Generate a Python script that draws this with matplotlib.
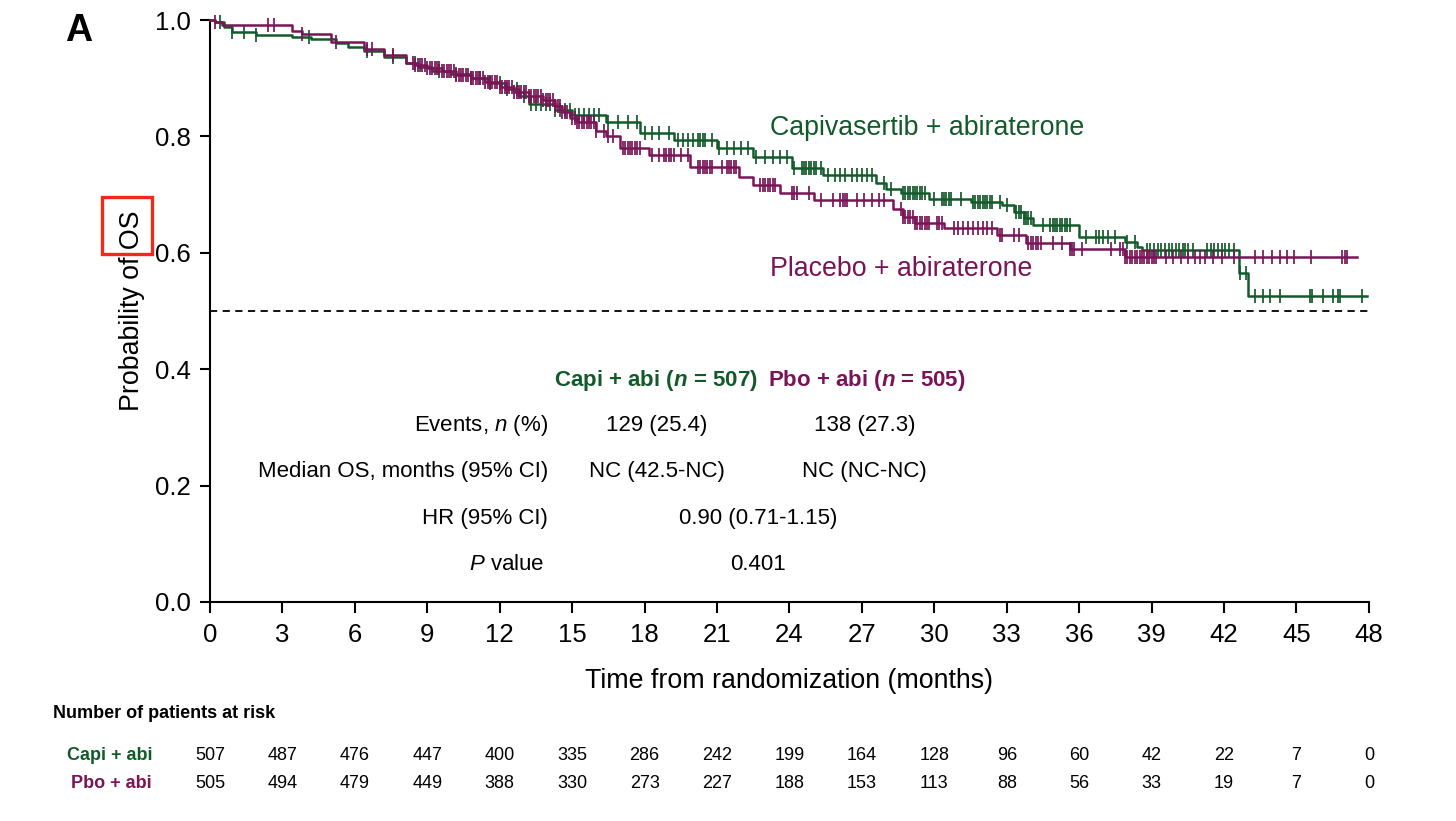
import numpy as np
import matplotlib
matplotlib.use("Agg")
import matplotlib.pyplot as plt
from matplotlib import font_manager
from matplotlib.patches import Rectangle
import matplotlib.transforms as mtransforms

# ---------------- data ----------------
capi_times = [0, 0.2, 0.6, 0.9, 1.9, 3.4, 4.2, 5.2, 5.7, 6.4, 7.2, 8.1, 8.6, 9.2, 10.0, 10.8,
              11.5, 12.2, 12.8, 13.2, 14.3, 15.0, 16.4, 17.8, 19.2, 21.0, 22.5, 24.1, 25.4,
              27.6, 28.0, 28.6, 29.8, 31.5, 32.8, 33.3, 33.7, 34.1, 36.0, 37.9, 38.4, 38.6,
              42.6, 43.0]
capi_surv = [1.0, 0.997, 0.988, 0.979, 0.974, 0.971, 0.967, 0.960, 0.954, 0.947, 0.937, 0.926,
             0.920, 0.913, 0.907, 0.900, 0.892, 0.882, 0.870, 0.855, 0.845, 0.837, 0.825, 0.806,
             0.794, 0.780, 0.765, 0.746, 0.734, 0.720, 0.710, 0.703, 0.692, 0.687, 0.682, 0.670,
             0.660, 0.648, 0.628, 0.619, 0.610, 0.604, 0.565, 0.526]
capi_end = 47.9

pbo_times = [0, 0.2, 0.5, 3.4, 3.8, 5.0, 6.4, 7.2, 8.1, 8.5, 9.0, 9.6, 10.2, 10.8, 11.4, 12.0,
             12.6, 13.2, 13.8, 14.3, 14.6, 14.9, 15.2, 16.0, 16.4, 17.0, 18.2, 19.9, 21.9, 22.5,
             23.6, 25.0, 28.3, 28.7, 29.2, 30.4, 32.6, 33.8, 35.6, 37.9]
pbo_surv = [1.0, 0.997, 0.991, 0.981, 0.976, 0.962, 0.950, 0.940, 0.926, 0.922, 0.917, 0.912,
            0.906, 0.900, 0.893, 0.885, 0.877, 0.870, 0.862, 0.852, 0.842, 0.832, 0.825, 0.810,
            0.800, 0.780, 0.768, 0.747, 0.730, 0.716, 0.703, 0.690, 0.675, 0.662, 0.652, 0.643,
            0.630, 0.617, 0.606, 0.593]
pbo_end = 47.5

capi_censor = [0.4, 0.9, 1.4, 1.9, 4.1, 6.5, 7.6, 8.5, 9.5, 10.2, 10.8, 11.2, 11.6, 12.0, 12.3,
               12.7, 13.0, 13.3, 13.5, 13.7, 13.9, 14.1, 14.3, 14.5, 14.7, 14.9, 15.1, 15.3,
               15.5, 15.7, 15.9, 16.1, 16.5, 16.9, 17.3, 17.7, 18.0, 18.3, 18.6, 19.0, 19.4,
               19.6, 19.8, 20.0, 20.2, 20.3, 20.4, 20.5, 20.8, 21.1, 21.4, 21.7, 22.0, 22.3,
               22.6, 23.0, 23.3, 23.6, 23.9, 24.2, 24.5, 24.6, 24.7, 24.8, 24.9, 25.0, 25.1,
               25.3, 25.6, 25.9, 26.1, 26.3, 26.6, 26.8, 27.0, 27.2, 27.4, 27.9, 28.2, 28.7,
               28.8, 28.9, 29.0, 29.1, 29.2, 29.3, 29.4, 29.5, 29.6, 30.0, 30.3, 30.4, 30.5,
               30.6, 30.7, 31.1, 31.6, 31.7, 31.8, 31.9, 32.0, 32.1, 32.2, 32.3, 32.4, 32.7,
               33.0, 33.4, 33.5, 33.6, 33.7, 33.8, 33.9, 34.0, 34.5, 34.8, 34.9, 35.0, 35.1,
               35.2, 35.3, 35.4, 35.5, 35.6, 36.3, 36.7, 36.8, 37.0, 37.2, 37.5, 38.0, 38.3,
               38.8, 38.95, 39.1, 39.25, 39.4, 39.55, 39.7, 39.85, 40.0, 40.15, 40.3, 40.4,
               40.5, 40.7, 41.3, 41.45, 41.6, 41.75, 41.9, 42.05, 42.2, 42.4, 42.65, 42.9,
               43.3, 43.6, 43.9, 44.3, 45.55, 45.65, 46.1, 46.5, 46.7, 46.8, 47.7]

pbo_censor = [0.2, 2.4, 2.65, 3.8, 5.2, 6.5, 6.7, 7.6, 8.4, 8.5, 8.6, 8.7, 8.8, 8.9, 9.0, 9.1,
              9.2, 9.3, 9.4, 9.5, 9.6, 9.7, 9.8, 9.9, 10.0, 10.1, 10.2, 10.3, 10.4, 10.5, 10.6,
              10.7, 10.8, 10.9, 11.0, 11.1, 11.2, 11.3, 11.4, 11.5, 11.6, 11.7, 11.8, 11.9,
              12.0, 12.1, 12.2, 12.3, 12.4, 12.5, 12.6, 12.7, 12.8, 12.9, 13.0, 13.1, 13.2,
              13.3, 13.4, 13.5, 13.6, 13.7, 13.8, 13.9, 14.0, 14.1, 14.2, 14.3, 14.4, 14.5,
              14.6, 14.7, 14.8, 15.0, 15.1, 15.2, 15.3, 15.4, 15.5, 15.6, 15.7, 15.8, 15.9,
              16.0, 16.3, 16.5, 16.7, 17.1, 17.2, 17.3, 17.4, 17.5, 17.6, 17.7, 17.8, 18.3,
              18.6, 18.8, 18.9, 19.0, 19.1, 19.2, 19.5, 19.8, 20.2, 20.3, 20.4, 20.5, 20.6,
              20.7, 20.8, 21.2, 21.4, 21.5, 21.6, 21.7, 21.8, 22.8, 22.9, 23.0, 23.1, 23.2,
              23.3, 23.4, 24.1, 24.2, 24.3, 24.8, 25.3, 25.8, 26.1, 26.2, 26.3, 26.4, 26.8,
              27.1, 27.4, 27.7, 27.9, 28.6, 28.7, 28.8, 28.9, 29.0, 29.1, 29.2, 29.3, 29.4,
              29.5, 29.6, 29.7, 29.8, 30.1, 30.2, 30.3, 30.8, 31.0, 31.2, 31.4, 31.6, 31.8,
              32.0, 32.2, 32.4, 32.7, 32.8, 33.3, 33.5, 33.9, 34.0, 34.1, 34.2, 34.3, 34.4,
              34.9, 35.3, 35.6, 35.7, 35.8, 36.1, 37.3, 37.7, 37.8, 37.9, 38.0, 38.1, 38.2,
              38.3, 38.4, 38.5, 38.6, 38.7, 38.8, 38.9, 39.0, 39.1, 39.2, 39.6, 39.9, 40.2,
              40.5, 40.8, 41.0, 41.2, 41.55, 41.9, 42.4, 43.3, 43.6, 44.0, 44.3, 44.6, 44.9,
              45.6, 46.9, 47.0, 47.1]

risk_times = [0, 3, 6, 9, 12, 15, 18, 21, 24, 27, 30, 33, 36, 39, 42, 45, 48]
capi_risk = [507, 487, 476, 447, 400, 335, 286, 242, 199, 164, 128, 96, 60, 42, 22, 7, 0]
pbo_risk = [505, 494, 479, 449, 388, 330, 273, 227, 188, 153, 113, 88, 56, 33, 19, 7, 0]

x_ticks = [0, 3, 6, 9, 12, 15, 18, 21, 24, 27, 30, 33, 36, 39, 42, 45, 48]
y_ticks = [0.0, 0.2, 0.4, 0.6, 0.8, 1.0]
y_ticklabels = ["0.0", "0.2", "0.4", "0.6", "0.8", "1.0"]

GREEN = "#135a2b"
PURPLE = "#7a1456"

# ---------------- fonts ----------------
names = {f.name for f in font_manager.fontManager.ttflist}
MAIN = "Liberation Sans" if "Liberation Sans" in names else "DejaVu Sans"
NARROW = "Liberation Sans Narrow" if "Liberation Sans Narrow" in names else MAIN
plt.rcParams["font.family"] = [MAIN, "DejaVu Sans"]
plt.rcParams["mathtext.fontset"] = "custom"
plt.rcParams["mathtext.rm"] = NARROW
plt.rcParams["mathtext.it"] = NARROW + ":italic"
plt.rcParams["mathtext.bf"] = NARROW + ":bold"
try:
    plt.rcParams["mathtext.bfit"] = NARROW + ":italic:bold"
except KeyError:
    pass

# ---------------- figure ----------------
fig = plt.figure(figsize=(14.56, 8.21), dpi=100)
ax = fig.add_axes([0.1442, 0.2668, 0.7960, 0.7088])


def km_line(times, surv, end):
    xs = list(times) + [end]
    ys = list(surv) + [surv[-1]]
    return xs, ys


def surv_at(times, surv, t):
    idx = np.searchsorted(np.asarray(times), np.asarray(t), side="right") - 1
    return np.asarray(surv)[idx]


for times, surv, end, cens, col, z in [
    (capi_times, capi_surv, capi_end, capi_censor, GREEN, 3),
    (pbo_times, pbo_surv, pbo_end, pbo_censor, PURPLE, 4),
]:
    xs, ys = km_line(times, surv, end)
    ax.step(xs, ys, where="post", color=col, lw=1.8, zorder=z, clip_on=False)
    ax.plot(cens, surv_at(times, surv, cens), ls="none", marker="|", ms=10.5,
            mew=1.25, color=col, zorder=z, clip_on=False)

ax.axhline(0.5, color="black", lw=1.3, ls=(0, (4, 3)), zorder=2)

ax.set_xlim(0, 48)
ax.set_ylim(0, 1.0)
ax.set_xticks(x_ticks)
ax.set_xticklabels([str(v) for v in x_ticks])
ax.set_yticks(y_ticks)
ax.set_yticklabels(y_ticklabels)
for s in ["top", "right"]:
    ax.spines[s].set_visible(False)
for s in ["left", "bottom"]:
    ax.spines[s].set_linewidth(1.5)
ax.tick_params(axis="y", length=7, width=1.5, pad=7, labelsize=18.5)
ax.tick_params(axis="x", length=8, width=1.5, pad=7, labelsize=18.5)
ax.set_xlabel("Time from randomization (months)", fontsize=19.3, labelpad=15)
ax.set_ylabel("Probability of OS", fontsize=19.3, labelpad=7)

# curve labels
ax.text(23.2, 0.815, "Capivasertib + abiraterone", color=GREEN, fontsize=19.3,
        ha="left", va="center")
ax.text(23.2, 0.573, "Placebo + abiraterone", color=PURPLE, fontsize=19.3,
        ha="left", va="center")

# stats table
tf = dict(fontsize=16, family=NARROW)
ax.text(18.45, 0.381, r"Capi + abi ($\mathbfit{n}$ = 507)", color=GREEN,
        fontweight="bold", ha="center", va="center", **tf)
ax.text(27.2, 0.381, r"Pbo + abi ($\mathbfit{n}$ = 505)", color=PURPLE,
        fontweight="bold", ha="center", va="center", **tf)
rows = [
    (0.3026, r"Events, $\it{n}$ (%)", "129 (25.4)", "138 (27.3)"),
    (0.2235, "Median OS, months (95% CI)", "NC (42.5-NC)", "NC (NC-NC)"),
]
for y, lab, v1, v2 in rows:
    ax.text(14.0, y, lab, ha="right", va="center", **tf)
    ax.text(18.5, y, v1, ha="center", va="center", **tf)
    ax.text(27.1, y, v2, ha="center", va="center", **tf)
ax.text(14.0, 0.1428, "HR (95% CI)", ha="right", va="center", **tf)
ax.text(22.7, 0.1428, "0.90 (0.71-1.15)", ha="center", va="center", **tf)
ax.text(13.85, 0.0637, r"$\it{P}$ value", ha="right", va="center", **tf)
ax.text(22.7, 0.0637, "0.401", ha="center", va="center", **tf)

# panel letter
fig.text(0.0446, 1 - 13 / 821, "A", fontsize=27, fontweight="bold", ha="left", va="top")

# red highlight box around "OS"
fig.patches.append(Rectangle((102 / 1456, 1 - 254 / 821), 50 / 1456, 57 / 821,
                             transform=fig.transFigure, fill=False,
                             edgecolor="#ee2a1b", lw=2.4, zorder=10))

# risk table
rf = dict(fontsize=13, family=NARROW)
fig.text(0.0364, 1 - 713 / 821, "Number of patients at risk", fontweight="bold",
         ha="left", va="center", **rf)
blend = mtransforms.blended_transform_factory(ax.transData, fig.transFigure)
y1, y2 = 1 - 755 / 821, 1 - 783 / 821
fig.text(0.1044, y1, "Capi + abi", color=GREEN, fontweight="bold", ha="right",
         va="center", **rf)
fig.text(0.1044, y2, "Pbo + abi", color=PURPLE, fontweight="bold", ha="right",
         va="center", **rf)
for t, a, b in zip(risk_times, capi_risk, pbo_risk):
    ax.text(t, y1, str(a), transform=blend, ha="center", va="center", **rf)
    ax.text(t, y2, str(b), transform=blend, ha="center", va="center", **rf)

fig.savefig("out.png", dpi=100)
